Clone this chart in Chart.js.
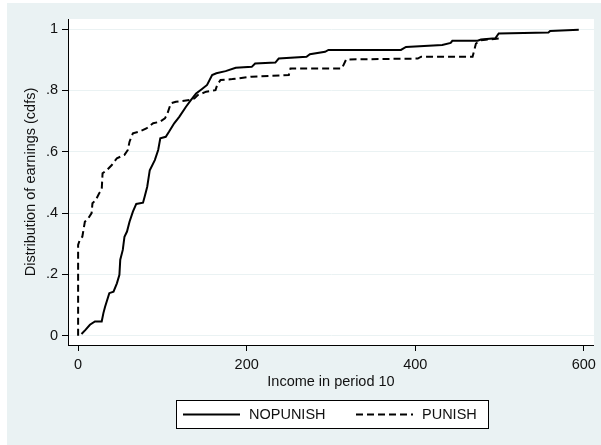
<!DOCTYPE html>
<html>
<head>
<meta charset="utf-8">
<script src="https://cdn.jsdelivr.net/npm/chart.js@4.4.1/dist/chart.umd.min.js"></script>
<style>
  html, body { margin: 0; padding: 0; background: #fff; }
  #wrap { width: 601px; height: 445px; position: relative; }
</style>
</head>
<body>
<div id="wrap"><canvas id="cdfChart" width="601" height="445"></canvas></div>
<script>
const nopunishIncome = [4, 9, 14, 20, 28, 30, 32, 37, 42, 46, 49, 50, 53, 55, 58, 61, 65, 69, 77, 79,
    82, 85, 91, 95, 97.5, 104, 108, 114, 120, 128, 134, 140, 147, 153, 159, 164, 175, 187, 206, 210,
    234, 238, 271, 275, 293, 297, 383, 389, 432, 442, 444, 474, 478, 495, 499, 558, 560, 594];
const nopunishCdf = [0.006, 0.02, 0.036, 0.047, 0.047, 0.074, 0.095, 0.139, 0.144, 0.171, 0.199, 0.248, 0.28, 0.323, 0.34, 0.372, 0.405, 0.43, 0.434, 0.454,
    0.486, 0.54, 0.573, 0.606, 0.644, 0.649, 0.666, 0.693, 0.714, 0.747, 0.769, 0.79, 0.805, 0.818, 0.85, 0.856, 0.863, 0.874, 0.877, 0.888,
    0.891, 0.904, 0.91, 0.918, 0.926, 0.932, 0.932, 0.942, 0.948, 0.955, 0.962, 0.962, 0.966, 0.97, 0.986, 0.989, 0.994, 0.998];

const punishIncome = [0, 0, 2, 5, 8, 12, 16, 17, 21, 25, 28, 29, 34, 40, 46, 55, 59, 61, 65, 73,
    81, 89, 97, 103, 106, 110, 116, 132, 138, 142, 152, 163, 165, 169, 183, 206, 250, 252, 313, 318,
    403, 407, 468, 472, 478, 501];
const punishCdf = [0, 0.296, 0.313, 0.323, 0.372, 0.383, 0.4, 0.432, 0.443, 0.465, 0.476, 0.53, 0.54, 0.557, 0.579, 0.59, 0.606, 0.633, 0.66, 0.666,
    0.676, 0.693, 0.698, 0.709, 0.725, 0.758, 0.763, 0.769, 0.774, 0.785, 0.796, 0.801, 0.818, 0.834, 0.837, 0.845, 0.85, 0.872, 0.872, 0.901,
    0.904, 0.91, 0.91, 0.953, 0.964, 0.97];

const seriesNames = ['NOPUNISH', 'PUNISH'];
const xTickValues = [0, 200, 400, 600];
const yTickValues = [0, 0.2, 0.4, 0.6, 0.8, 1];
const yTickLabels = ['0', '.2', '.4', '.6', '.8', '1'];

const stataBlue = '#eaf2f3';
const fontFamily = '"Liberation Sans", Arial, sans-serif';

function toPoints(xs, ys) {
    return xs.map((x, i) => ({ x: x, y: ys[i] }));
}

// Stata-like backdrop: white edge, light blue graph region, white plot region
const backdrop = {
    id: 'backdrop',
    beforeDraw(chart) {
        const ctx = chart.ctx;
        const a = chart.chartArea;
        ctx.save();
        ctx.fillStyle = '#fff';
        ctx.fillRect(0, 0, chart.width, chart.height);
        ctx.fillStyle = stataBlue;
        ctx.fillRect(7, 3, chart.width - 7, chart.height - 3);
        ctx.fillStyle = '#fff';
        ctx.fillRect(a.left, a.top, a.right - a.left, a.bottom - a.top);
        ctx.restore();
    }
};

// boxed legend below the axis title
const boxedLegend = {
    id: 'boxedLegend',
    afterDraw(chart) {
        const ctx = chart.ctx;
        const left = 176, top = 400, width = 312, height = 28;
        const midY = top + height / 2 + 0.5;
        const entries = [
            { x0: 183, x1: 240, tx: 249 },
            { x0: 356, x1: 413, tx: 422 }
        ];
        ctx.save();
        ctx.fillStyle = '#fff';
        ctx.fillRect(left, top, width, height);
        ctx.strokeStyle = '#000';
        ctx.lineWidth = 1;
        ctx.strokeRect(left + 0.5, top + 0.5, width, height);
        entries.forEach((e, i) => {
            const ds = chart.data.datasets[i];
            ctx.beginPath();
            ctx.setLineDash(ds.borderDash || []);
            ctx.lineWidth = ds.borderWidth;
            ctx.strokeStyle = ds.borderColor;
            ctx.moveTo(e.x0, midY);
            ctx.lineTo(e.x1, midY);
            ctx.stroke();
            ctx.setLineDash([]);
            ctx.fillStyle = '#111';
            ctx.font = '14.5px ' + fontFamily;
            ctx.textBaseline = 'middle';
            ctx.textAlign = 'left';
            ctx.fillText(ds.label, e.tx, midY);
        });
        ctx.restore();
    }
};

const ctx = document.getElementById('cdfChart').getContext('2d');
new Chart(ctx, {
    type: 'line',
    data: {
        datasets: [{
            label: seriesNames[0],
            data: toPoints(nopunishIncome, nopunishCdf),
            borderColor: '#000',
            borderWidth: 2,
            pointRadius: 0,
            tension: 0,
            fill: false
        }, {
            label: seriesNames[1],
            data: toPoints(punishIncome, punishCdf),
            borderColor: '#000',
            borderWidth: 2,
            borderDash: [7, 4],
            pointRadius: 0,
            tension: 0,
            fill: false
        }]
    },
    options: {
        responsive: false,
        animation: false,
        devicePixelRatio: 1,
        layout: { padding: { left: 0, right: 4, top: 19, bottom: 0 } },
        plugins: {
            legend: { display: false },
            tooltip: { enabled: false }
        },
        scales: {
            x: {
                type: 'linear',
                min: -12,
                max: 612,
                afterBuildTicks: (scale) => { scale.ticks = xTickValues.map(v => ({ value: v })); },
                afterFit: (scale) => { scale.height = 100; },
                ticks: {
                    color: '#111',
                    font: { family: fontFamily, size: 14.5 },
                    padding: 5,
                    maxRotation: 0
                },
                grid: {
                    drawOnChartArea: false,
                    tickLength: 6,
                    tickColor: '#000'
                },
                border: { color: '#000', width: 1 },
                title: {
                    display: true,
                    text: 'Income in period 10',
                    color: '#111',
                    font: { family: fontFamily, size: 14.5 },
                    padding: { top: 0, bottom: 54 }
                }
            },
            y: {
                type: 'linear',
                min: -0.03,
                max: 1.033,
                afterBuildTicks: (scale) => { scale.ticks = yTickValues.map(v => ({ value: v })); },
                afterFit: (scale) => { scale.width = 68; },
                ticks: {
                    color: '#111',
                    font: { family: fontFamily, size: 14.5 },
                    padding: 4,
                    callback: (value, index) => yTickLabels[index]
                },
                grid: {
                    color: stataBlue,
                    lineWidth: 1,
                    tickLength: 6,
                    tickColor: '#000'
                },
                border: { color: '#000', width: 1 },
                title: {
                    display: true,
                    text: 'Distribution of earnings (cdfs)',
                    color: '#111',
                    font: { family: fontFamily, size: 14.5 },
                    padding: { top: 22, bottom: 0 }
                }
            }
        }
    },
    plugins: [backdrop, boxedLegend]
});
</script>
</body>
</html>
